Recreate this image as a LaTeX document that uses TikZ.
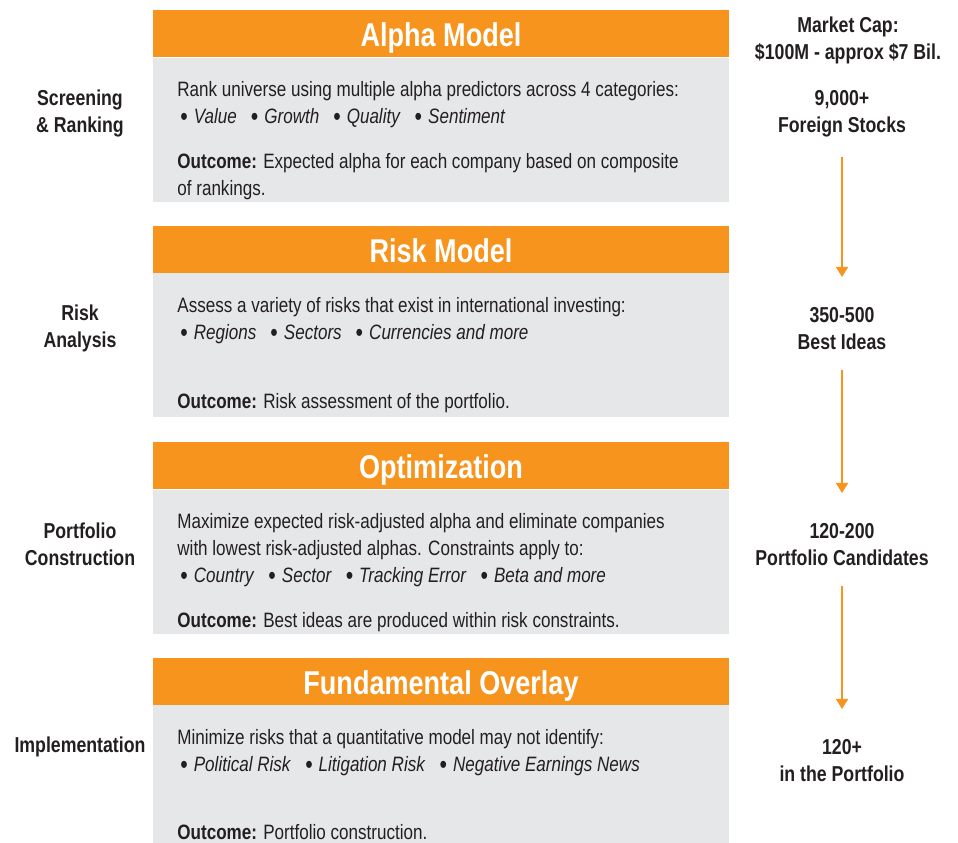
\documentclass[tikz,border=0pt]{standalone}
\usepackage{fontspec}
\setmainfont{Liberation Sans}[FakeStretch=0.82]
\usetikzlibrary{positioning,arrows.meta}

\definecolor{barorange}{HTML}{F7941D}
\definecolor{boxgrey}{HTML}{E6E7E8}
\definecolor{ink}{HTML}{231F20}

\tikzset{basic/.style={inner sep=0pt,text=ink}}
\tikzset{header/.style={basic,rectangle,fill=barorange,text=white,minimum width=288pt,minimum height=23.5pt,text height=13.4pt,text depth=0pt,font=\fontsize{16.5}{18}\selectfont\bfseries}}
\tikzset{panel/.style={basic,rectangle,fill=boxgrey,minimum width=288pt,minimum height=72pt}}
\tikzset{body/.style={basic,anchor=north west,align=left,font=\fontsize{10.4}{13.5}\selectfont}}
\tikzset{stage/.style={basic,align=center,font=\fontsize{10.8}{13.5}\selectfont\bfseries}}
\tikzset{funnel/.style={draw=barorange,line width=0.75pt,-{Triangle[width=6pt,length=5pt]},shorten <=10pt,shorten >=15pt}}

% bullet item in the italic lists
\newcommand{\bitem}[1]{\raisebox{-0.9pt}{\fontsize{13}{13}\selectfont\textbullet}\hspace{3pt}\textit{#1}\hspace{7pt}}

\begin{document}
\begin{tikzpicture}[x=0.5pt,y=-0.5pt]
	\useasboundingbox (0,0) rectangle (958,842);

	% the four stages
	\node[header] (alpha) at (441,33.5) {Alpha Model};
	\node[panel,below=0pt of alpha] (alphabox) {};
	\node[header] (risk) at (441,249) {Risk Model};
	\node[panel,below=0pt of risk] (riskbox) {};
	\node[header] (optim) at (441,465.5) {Optimization};
	\node[panel,below=0pt of optim] (optimbox) {};
	\node[header] (fund) at (441,681) {Fundamental Overlay};
	\node[panel,below=0pt of fund] (fundbox) {};

	% texts inside the panels
	\node[body] (alphatxt) at (177,81) {Rank universe using multiple alpha predictors across 4 categories:\\
		\hspace{1.5pt}\bitem{Value}\bitem{Growth}\bitem{Quality}\bitem{Sentiment}};
	\node[body] (alphaout) at (177,153) {\textbf{Outcome:} Expected alpha for each company based on composite\\of rankings.};
	\node[body] (risktxt) at (177,297) {Assess a variety of risks that exist in international investing:\\
		\hspace{1.5pt}\bitem{Regions}\bitem{Sectors}\bitem{Currencies and more}};
	\node[body] (riskout) at (177,393) {\textbf{Outcome:} Risk assessment of the portfolio.};
	\node[body] (optimtxt) at (177,513) {Maximize expected risk-adjusted alpha and eliminate companies\\
		with lowest risk-adjusted alphas. Constraints apply to:\\
		\hspace{1.5pt}\bitem{Country}\bitem{Sector}\bitem{Tracking Error}\bitem{Beta and more}};
	\node[body] (optimout) at (177,612) {\textbf{Outcome:} Best ideas are produced within risk constraints.};
	\node[body] (fundtxt) at (177,729) {Minimize risks that a quantitative model may not identify:\\
		\hspace{1.5pt}\bitem{Political Risk}\bitem{Litigation Risk}\bitem{Negative Earnings News}};
	\node[body] (fundout) at (177,824) {\textbf{Outcome:} Portfolio construction.};

	% stage names on the left
	\node[stage] (screen) at (80,113.5) {Screening\\\& Ranking};
	\node[stage] (analysis) at (80,328.5) {Risk\\Analysis};
	\node[stage] (constr) at (80,544.5) {Portfolio\\Construction};
	\node[stage] (impl) at (80,747) {Implementation};

	% number of stocks on the right
	\node[stage] (mcap) at (848,40.5) {Market Cap:\\\$100M - approx \$7 Bil.};
	\node[stage] (stocks) at (842,113.5) {9,000+\\Foreign Stocks};
	\node[stage] (ideas) at (842,328.5) {350-500\\Best Ideas};
	\node[stage] (cands) at (842,544.5) {120-200\\Portfolio Candidates};
	\node[stage] (port) at (842,760.5) {120+\\in the Portfolio};
	\draw[funnel] (stocks) -- (ideas);
	\draw[funnel] (ideas) -- (cands);
	\draw[funnel] (cands) -- (port);

\end{tikzpicture}
\end{document}
